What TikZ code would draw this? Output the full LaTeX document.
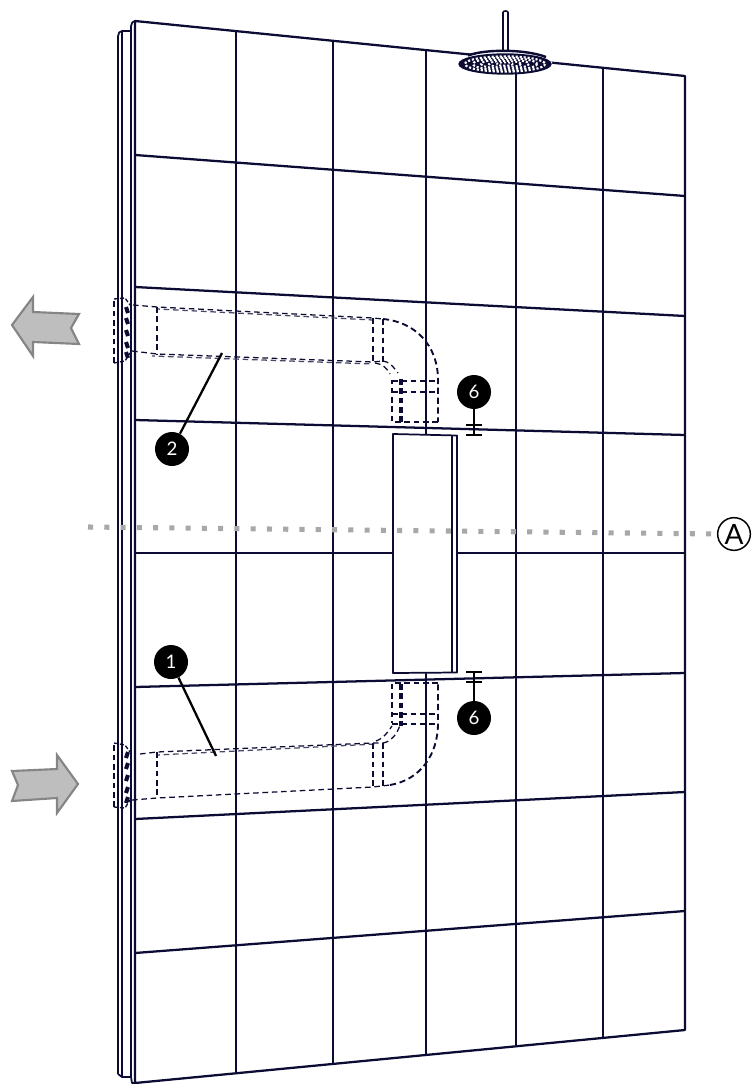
\documentclass[tikz,border=0pt]{standalone}
\usepackage{fontspec}
\setmainfont{Lato}
\definecolor{ink}{HTML}{0B0B33}
\definecolor{arrowfill}{HTML}{BEBEBE}
\definecolor{arrowline}{HTML}{858585}
\definecolor{dotgrey}{HTML}{A8A8A8}
\tikzset{
  grid line/.style={draw=ink,line width=1.7pt},
  edge line/.style={draw=ink,line width=1.3pt,line join=round},
  pipe/.style={draw=ink,line width=.95pt,dash pattern=on 4.2pt off 2.8pt},
  pipe soft/.style={draw=ink!75,line width=.95pt,dash pattern=on 4.2pt off 2.8pt,dash phase=2pt},
  pipe bold/.style={draw=ink,line width=1.4pt,dash pattern=on 4.6pt off 2.8pt},
  flow arrow/.style={draw=arrowline,fill=arrowfill,line width=1.6pt,line join=miter},
  callout/.style={circle,fill=black,text=white,minimum size=25.5pt,inner sep=0pt,font=\fontsize{14}{14}\selectfont},
  leader/.style={draw=black,line width=1.7pt},
  tbar/.style={draw=black,line width=1.7pt},
  blob/.style={draw=ink,line width=3pt},
  section line/.style={draw=dotgrey,line width=3.8pt,dash pattern=on 3.8pt off 8.4pt},
  section mark/.style={circle,draw=black,line width=1.1pt,fill=white,minimum size=24.5pt,inner sep=0pt,font=\fontsize{21}{21}\selectfont},
}
\begin{document}
\begin{tikzpicture}[x=.75pt,y=-.75pt]
\useasboundingbox (0,0) rectangle (754,1084);

% grid
\foreach \a/\b/\c/\d in {135/155/685/196,135/287/685/316,135/420/685/435,135/553/685/553,135/687/685/673,135/819/685/792,135/953/685/911}
  \draw[grid line] (\a,\b) -- (\c,\d);
\foreach \x/\t/\b in {236/31/1073,333/41/1064,426/50/1055,516/70/1046,603/68/1038}
  \draw[grid line] (\x,\t) -- (\x,\b);

% panel outline and edge
\draw[grid line,line join=round] (135,21) -- (685,76) -- (685,1030) -- (135,1083) -- cycle;
\draw[edge line] (118,1074) -- (118,36) .. controls (118,33) and (120,31) .. (122,31) -- (131,31) -- (131,26) .. controls (131,23) and (133,21) .. (135,21);
\draw[edge line] (122,31) -- (122,1077);
\draw[edge line] (118,1074) -- (122,1077) -- (131,1077) -- (132,1083) -- (135,1083);
\draw[edge line] (131,31) -- (131,1077);

% niche
\path[fill=white] (393,434) -- (457,435) -- (457,673) -- (393,673) -- cycle;
\draw[edge line] (393,673) -- (393,434) -- (457,435.5) -- (457,672.5) -- cycle;
\draw[edge line] (452,435) -- (452,672.5);

% section line
\coordinate (secL) at (88,527);
\node[section mark] (secA) at (734,534) {A};
\draw[section line] (secL) -- (secA.west);

% shower head
\draw[draw=ink,line width=1.2pt,fill=white] (503,50) -- (503,12.5) .. controls (503,10.5) and (508,10.5) .. (508,12.5) -- (508,50);
\fill[white] (459,62) .. controls (470,48) and (540,48) .. (552,62) -- (552,70) -- (459,70) -- cycle;
\draw[ink,line width=1.8pt] (468,55.5) .. controls (485,49) and (525,49) .. (546,57);
\draw[ink,fill=ink,line width=1pt] (505,64) ellipse [x radius=46,y radius=10];
\foreach \k/\w in {40/1.6,32/1.6,24/1.5,16/1.4,8/1.2}
  \draw[white,line width=\w pt,dash pattern=on 1.6pt off 1.4pt] (505,64) ellipse [x radius=\k,y radius=\k*.19];

% upper pipe
\draw[pipe] (133,305) -- (157,307) -- (373,318) -- (383,319);
\draw[pipe bold] (383,319) .. controls (415,322) and (438,345) .. (438,380) -- (438,422);
\draw[pipe] (438,422) -- (392,422) -- (392,380);
\draw[pipe soft] (157,309) -- (373,320);
\draw[pipe] (132,351) -- (157,354) -- (373,362) -- (383,361);
\draw[pipe soft] (152,356) -- (373,364);
\draw[pipe] (383,361) .. controls (389,362) and (392,365) .. (398,373);
\draw[pipe] (375,363) .. controls (382,364) and (386,367) .. (390,374);
\draw[pipe] (157,307) -- (157,355);
\draw[pipe] (373,318) -- (373,363);
\draw[pipe] (383,319) -- (383,362);
\draw[pipe] (392,381) -- (438,381);
\draw[pipe] (392,392) -- (438,392);
\draw[pipe] (400,379) -- (400,422);
\draw[pipe] (402,379) -- (402,422);
\draw[pipe] (114,363) -- (114,299);

% lower pipe
\draw[pipe] (140,754) -- (157,752) -- (373,743) -- (383,743);
\draw[pipe soft] (157,755) -- (376,744);
\draw[pipe] (383,743) .. controls (390,742) and (397,735) .. (400,725);
\draw[pipe] (376,741) .. controls (384,738) and (388,732) .. (392,726);
\draw[pipe] (132,800) -- (157,798) -- (373,787) -- (390,785);
\draw[pipe bold] (390,785) .. controls (420,780) and (438,755) .. (438,723) -- (438,683);
\draw[pipe] (438,683) -- (392,683) -- (392,723);
\draw[pipe] (157,752) -- (157,798);
\draw[pipe] (373,743) -- (373,787);
\draw[pipe] (383,743) -- (383,787);
\draw[pipe] (392,714) -- (438,714);
\draw[pipe] (392,724) -- (438,724);
\draw[pipe] (400,684) -- (400,726);
\draw[pipe] (402,684) -- (402,726);
\draw[pipe] (114,807) -- (114,743);

% couplings
\foreach \y in {307,318,330,342,352}
  \draw[blob] (126,\y) -- (128,\y+6);
\foreach \y in {752,763,775,787,797}
  \draw[blob] (128,\y) -- (126,\y+6);
\draw[ink,line width=1pt,dash pattern=on 3pt off 1.5pt] (114,299) -- (125,298) -- (130,305);
\draw[ink,line width=1pt,dash pattern=on 3pt off 1.5pt] (114,363) -- (125,361) -- (130,353);
\draw[ink,line width=1pt,dash pattern=on 3pt off 1.5pt] (114,743) -- (125,745) -- (130,752);
\draw[ink,line width=1pt,dash pattern=on 3pt off 1.5pt] (114,807) -- (125,808) -- (130,800);

% flow arrows
\draw[flow arrow] (12,325) -- (33,297) -- (33,312) -- (79,314) -- (71,328) -- (79,344) -- (33,342) -- (33,356) -- cycle;
\draw[flow arrow] (78,784) -- (57,755) -- (57,769) -- (12,771) -- (18,785) -- (12,801) -- (57,798) -- (57,813) -- cycle;

% callouts
\node[callout] (c2) at (172,449) {2};
\coordinate (p2) at (222,353);
\draw[leader] (c2) -- (p2);
\node[callout] (c1) at (171,662) {1};
\coordinate (p1) at (216,756);
\draw[leader] (c1) -- (p1);

\node[callout] (c6a) at (474,392) {6};
\coordinate (b6a) at (474,435);
\coordinate (m6a) at (474,425);
\draw[leader] (c6a) -- (b6a);
\draw[tbar] ([xshift=-6pt]m6a) -- ([xshift=6pt]m6a);
\draw[tbar] ([xshift=-6pt]b6a) -- ([xshift=6pt]b6a);

\node[callout] (c6b) at (474,718) {6};
\coordinate (b6b) at (474,672);
\coordinate (m6b) at (474,682);
\draw[leader] (c6b) -- (b6b);
\draw[tbar] ([xshift=-6pt]m6b) -- ([xshift=6pt]m6b);
\draw[tbar] ([xshift=-6pt]b6b) -- ([xshift=6pt]b6b);
\end{tikzpicture}
\end{document}
